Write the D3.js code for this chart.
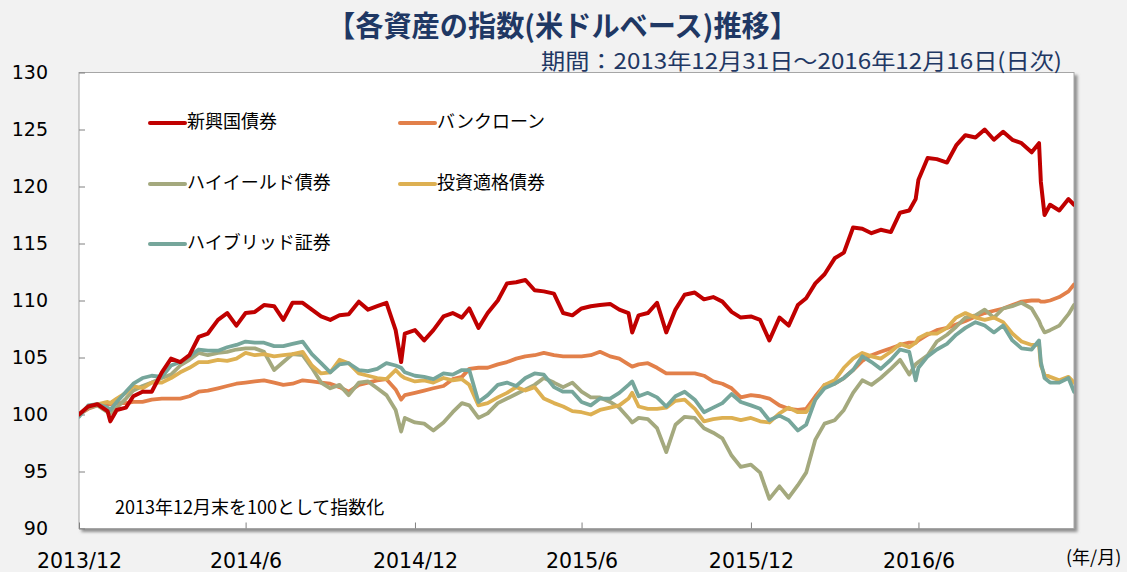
<!DOCTYPE html>
<html><head><meta charset="utf-8">
<script src="https://cdn.jsdelivr.net/npm/d3@7"></script>
<style>
body{margin:0;background:#F2F2F2;}
svg{display:block;}
text{font-family:"DejaVu Sans",Verdana,sans-serif;fill:#000;}
.jp{font-family:"Noto Sans CJK JP","Noto Sans",sans-serif;}
</style></head><body>
<svg id="c" width="1127" height="572"></svg>
<script>
// ---- data ----
const dates = [
"2013-12-31",
"2014-01-10","2014-01-20","2014-01-31","2014-02-03","2014-02-10","2014-02-20","2014-02-28",
"2014-03-10","2014-03-20","2014-03-31","2014-04-10","2014-04-20","2014-04-30",
"2014-05-10","2014-05-20","2014-05-31","2014-06-10","2014-06-20","2014-06-30",
"2014-07-10","2014-07-20","2014-07-31","2014-08-10","2014-08-20","2014-08-31",
"2014-09-10","2014-09-20","2014-09-30","2014-10-10","2014-10-20","2014-10-31",
"2014-11-10","2014-11-20","2014-11-30","2014-12-10","2014-12-16","2014-12-20","2014-12-31",
"2015-01-10","2015-01-20","2015-01-31","2015-02-10","2015-02-20","2015-02-28",
"2015-03-10","2015-03-20","2015-03-31","2015-04-10","2015-04-20","2015-04-30",
"2015-05-10","2015-05-20","2015-05-31","2015-06-10","2015-06-20","2015-06-30",
"2015-07-10","2015-07-20","2015-07-31","2015-08-10","2015-08-20","2015-08-24","2015-08-31",
"2015-09-10","2015-09-20","2015-09-30","2015-10-10","2015-10-20","2015-10-31",
"2015-11-10","2015-11-20","2015-11-30","2015-12-10","2015-12-20","2015-12-31",
"2016-01-10","2016-01-20","2016-01-31","2016-02-10","2016-02-20","2016-02-29",
"2016-03-10","2016-03-20","2016-03-31","2016-04-10","2016-04-20","2016-04-30",
"2016-05-10","2016-05-20","2016-05-31","2016-06-10","2016-06-20","2016-06-27","2016-06-30",
"2016-07-10","2016-07-20","2016-07-31","2016-08-10","2016-08-20","2016-08-31",
"2016-09-10","2016-09-20","2016-09-30","2016-10-10","2016-10-20","2016-10-31",
"2016-11-08","2016-11-10","2016-11-14","2016-11-20","2016-11-30","2016-12-10","2016-12-16"
];
// 新興国債券
const emergingBonds = [
100.0,100.7,100.9,100.3,99.4,100.4,100.6,101.6,102.0,102.0,103.7,104.9,104.6,105.2,106.8,107.1,108.3,108.9,107.8,108.9,
109.0,109.6,109.5,108.3,109.8,109.8,109.2,108.6,108.3,108.7,108.8,109.9,109.2,109.5,109.8,107.4,104.6,107.1,107.4,
106.5,107.4,108.6,108.9,108.5,109.3,107.6,108.9,110.0,111.5,111.6,111.8,110.9,110.8,110.6,108.9,108.7,109.3,
109.5,109.6,109.7,109.2,108.9,107.2,108.7,108.9,109.8,107.2,109.2,110.5,110.7,110.1,110.3,109.9,109.0,108.5,108.6,
108.3,106.5,108.5,107.8,109.6,110.2,111.5,112.3,113.7,114.2,116.4,116.3,115.9,116.2,116.0,117.7,117.9,118.9,120.6,
122.5,122.4,122.1,123.6,124.5,124.3,125.0,124.1,124.8,124.1,123.8,123.0,123.8,120.4,117.5,118.4,117.9,118.9,118.4
];
// バンクローン
const bankLoans = [
100.0,100.5,100.8,100.9,100.9,101.0,101.0,101.1,101.1,101.3,101.4,101.4,101.4,101.6,102.0,102.1,102.3,102.5,102.7,102.8,
102.9,103.0,102.8,102.6,102.7,103.0,102.9,102.8,102.7,102.4,102.0,102.6,102.8,103.0,103.1,102.2,101.3,101.7,101.9,
102.1,102.3,102.5,103.1,103.3,104.0,104.1,104.1,104.4,104.6,104.9,105.1,105.2,105.4,105.2,105.1,105.1,105.1,
105.2,105.5,105.1,104.9,104.4,104.2,104.4,104.5,104.1,103.6,103.6,103.6,103.6,103.4,102.9,102.7,102.3,101.5,101.7,
101.6,101.4,100.8,100.5,100.4,100.5,101.6,102.6,102.7,103.2,103.9,104.7,105.2,105.5,105.8,106.1,106.3,106.3,106.5,
107.0,107.4,107.6,107.9,108.2,108.6,108.9,109.1,109.3,109.6,109.9,110.0,110.0,109.9,109.9,110.0,110.3,110.8,111.4
];
// ハイイールド債券
const highYield = [
100.0,100.6,100.8,100.2,100.1,100.6,101.4,102.1,102.5,102.8,103.2,103.5,104.3,104.8,105.4,105.2,105.4,105.5,105.7,105.8,
105.8,105.5,103.9,104.6,105.3,105.2,104.1,102.8,102.3,102.6,101.7,102.8,102.9,102.3,101.7,100.4,98.5,99.7,99.3,
99.2,98.6,99.3,100.2,101.0,100.8,99.7,100.1,101.0,101.4,101.8,102.2,102.6,103.2,102.8,102.4,102.8,102.0,
101.5,101.5,101.1,100.6,99.7,99.3,99.7,99.6,98.8,96.7,99.1,99.8,99.7,98.8,98.4,97.9,96.4,95.4,95.6,
94.9,92.6,93.7,92.7,93.8,94.9,97.8,99.2,99.5,100.4,101.9,103.0,102.6,103.2,104.0,104.8,103.5,104.4,104.6,
105.2,106.4,107.0,107.7,108.5,108.7,109.2,108.5,109.3,109.5,109.8,109.3,108.2,107.8,107.2,107.4,107.8,108.8,109.6
];
// 投資適格債券
const investmentGrade = [
100.0,100.7,100.9,101.1,101.0,101.4,101.9,102.5,102.3,102.8,102.8,103.2,103.7,104.1,104.6,104.6,104.8,104.7,104.9,105.4,
105.2,105.3,105.1,105.2,105.3,105.5,104.3,103.6,103.7,104.8,104.5,103.6,103.4,103.2,103.1,103.9,103.4,103.2,102.9,
103.0,102.8,103.2,103.0,103.1,102.6,100.8,101.0,101.5,101.9,102.4,102.1,102.4,101.4,101.0,100.7,100.3,100.2,
100.0,100.4,100.6,100.8,101.4,101.9,100.7,100.5,100.5,100.6,101.2,101.3,100.5,99.4,99.6,99.7,99.7,99.5,99.7,
99.4,99.3,100.1,100.6,100.2,100.2,101.3,102.6,103.0,104.1,104.9,105.4,105.1,104.9,105.5,106.2,105.9,106.3,106.7,
107.1,107.1,107.6,108.5,108.9,108.5,108.3,108.5,108.1,107.1,106.4,106.1,106.1,104.3,103.5,103.3,103.0,103.3,102.8
];
// ハイブリッド証券
const hybrid = [
99.8,100.8,100.9,100.6,100.4,101.1,102.0,102.7,103.2,103.4,103.3,104.3,104.6,105.1,105.7,105.6,105.6,105.9,106.1,106.4,
106.3,106.3,106.0,106.0,106.2,106.4,105.3,104.5,103.7,104.4,104.5,103.9,103.8,104.0,104.5,104.3,104.1,103.7,103.4,
103.3,103.1,103.6,103.5,103.9,103.9,101.1,101.7,102.6,102.8,102.5,103.2,103.6,103.5,102.4,102.0,102.0,101.1,
100.8,101.4,101.4,101.9,102.6,102.9,101.6,101.9,101.5,100.7,101.6,102.0,101.3,100.2,100.6,101.0,101.8,101.1,100.8,
100.5,99.5,99.9,99.5,98.6,99.1,101.3,102.3,102.7,103.2,103.9,105.1,104.6,104.0,104.8,105.7,105.5,103.0,104.1,
105.1,105.7,106.2,107.0,107.6,108.1,107.8,107.2,107.8,106.5,105.8,105.7,106.5,104.6,103.2,102.8,102.8,103.2,102.0
];
const seriesNames = ["新興国債券","バンクローン","ハイイールド債券","投資適格債券","ハイブリッド証券"];
const seriesColors = ["#C00000","#E2804A","#A4A97E","#DDB052","#76A69B"];
const yTicks = [90,95,100,105,110,115,120,125,130];
const xTickDates = ["2013-12-31","2014-06-30","2014-12-31","2015-06-30","2015-12-31","2016-06-30"];
const xTickLabels = ["2013/12","2014/6","2014/12","2015/6","2015/12","2016/6"];

// ---- chart ----
const parse = d3.timeParse("%Y-%m-%d");
const svg = d3.select("#c");
const L = 79, R = 1074, T = 72.5, B = 528.5;

const x = d3.scaleTime().domain([parse("2013-12-31"), parse("2016-12-16")]).range([L, R]);
const y = d3.scaleLinear().domain([90, 130]).range([B, T]);

const defs = svg.append("defs");
const f = defs.append("filter").attr("id","sh").attr("x","-5%").attr("y","-5%").attr("width","110%").attr("height","110%");
f.append("feDropShadow").attr("dx",3).attr("dy",3).attr("stdDeviation",1.5).attr("flood-color","#7f7f7f").attr("flood-opacity",0.85);
defs.append("clipPath").attr("id","clip").append("rect").attr("x",L).attr("y",T).attr("width",R-L).attr("height",B-T);

svg.append("rect").attr("x",L).attr("y",T).attr("width",R-L).attr("height",B-T)
  .attr("fill","#fff").attr("stroke","#a6a6a6").attr("stroke-width",1).attr("filter","url(#sh)");

// title
svg.append("text").attr("class","jp").attr("x",327).attr("y",37)
  .attr("font-size",29).attr("font-weight","bold").style("fill","#1F3864")
  .attr("textLength",471).attr("lengthAdjust","spacingAndGlyphs")
  .text("【各資産の指数(米ドルベース)推移】");
svg.append("text").attr("class","jp").attr("x",541).attr("y",69)
  .attr("font-size",22).style("fill","#1F3864")
  .attr("textLength",521).attr("lengthAdjust","spacingAndGlyphs")
  .text("期間：2013年12月31日～2016年12月16日(日次)");

// axes
const yAxis = d3.axisLeft(y).tickValues(yTicks).tickSize(-6).tickPadding(31).tickFormat(d3.format("d"));
const gy = svg.append("g").attr("transform",`translate(${L},0)`).call(yAxis);
gy.select(".domain").remove();
gy.selectAll(".tick line").attr("stroke","#808080");
gy.selectAll(".tick text").attr("font-size",19).attr("font-family","DejaVu Sans, Verdana, sans-serif").style("fill","#000").attr("dy","0.3em");

const xAxis = d3.axisBottom(x).tickValues(xTickDates.map(parse)).tickSize(-6)
  .tickFormat((d,i)=>xTickLabels[i]);
const gx = svg.append("g").attr("transform",`translate(0,${B})`).call(xAxis);
gx.select(".domain").remove();
gx.selectAll(".tick line").attr("stroke","#808080");
gx.selectAll(".tick text").attr("font-size",20.5).attr("font-family","DejaVu Sans, Verdana, sans-serif")
  .style("fill","#000").attr("y",39.5).attr("dy",0);

svg.append("text").attr("class","jp").attr("x",1066).attr("y",564).attr("font-size",18).text("(年/月)");

// lines
const allSeries = [emergingBonds, bankLoans, highYield, investmentGrade, hybrid];
const drawOrder = [1,2,3,4,0];
const line = d3.line().x((d,i)=>x(parse(dates[i]))).y(d=>y(d)).curve(d3.curveLinear);
const gl = svg.append("g").attr("clip-path","url(#clip)");
drawOrder.forEach(k=>{
  gl.append("path").datum(allSeries[k]).attr("d",line).attr("fill","none")
    .attr("stroke",seriesColors[k]).attr("stroke-width",k===0?4:3.8)
    .attr("stroke-linejoin","round").attr("stroke-linecap","round");
});

// legend
const legPos = [[150,122],[400,122],[150,183],[400,183],[150,243]];
seriesNames.forEach((n,k)=>{
  const [lx,ly] = legPos[k];
  svg.append("line").attr("x1",lx).attr("x2",lx+35).attr("y1",ly+1).attr("y2",ly+1)
    .attr("stroke",seriesColors[k]).attr("stroke-width",4).attr("stroke-linecap","round");
  svg.append("text").attr("class","jp").attr("x",lx+37).attr("y",ly).attr("dy","0.35em")
    .attr("font-size",18).text(n);
});

svg.append("text").attr("class","jp").attr("x",115).attr("y",508).attr("dy","0.35em")
  .attr("font-size",18).text("2013年12月末を100として指数化");
</script>
</body></html>
